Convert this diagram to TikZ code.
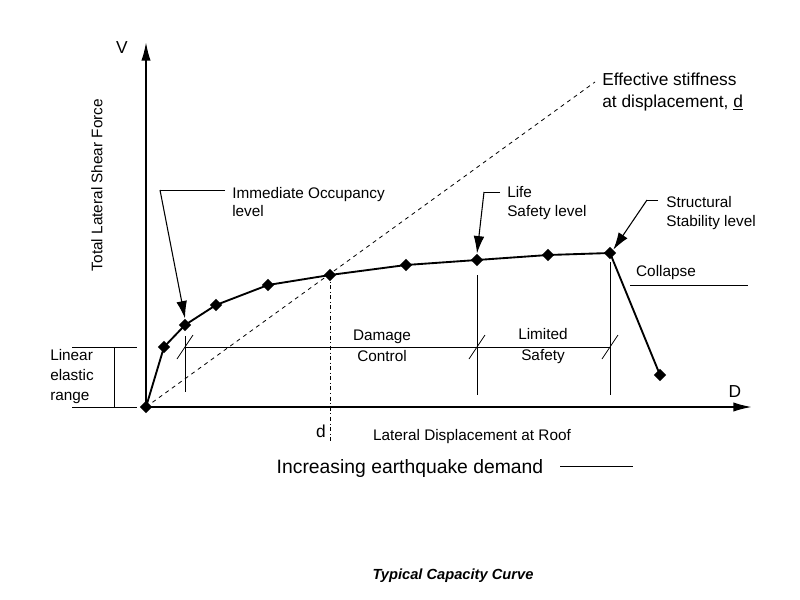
\documentclass[tikz,border=0pt]{standalone}
\usepackage{fontspec}
\setmainfont{Liberation Sans}
\usetikzlibrary{positioning,arrows.meta,shapes.geometric}
\tikzstyle{ptbox}=[diamond, fill=black, inner sep=0pt, minimum size=9.5pt]
\tikzstyle{lbl}=[font=\fontsize{11.5}{14}\selectfont, align=left, inner sep=0pt]
\tikzstyle{cline}=[-, line width=1.4pt]
\tikzstyle{pline}=[-, line width=0.6pt]
\tikzstyle{parrow}=[-{Latex[length=13pt,width=8pt]}, line width=0.8pt]
\begin{document}
\begin{tikzpicture}[x=0.75pt,y=-0.75pt]
\useasboundingbox (0,0) rectangle (800,600);

% axes
\coordinate (O) at (146,407);
\draw[-{Latex[length=14pt,width=7pt]}, line width=1.4pt] (O) -- (146,42);
\draw[-{Latex[length=14pt,width=7pt]}, line width=1.4pt] (O) -- (752,407);
\node (V) [lbl, font=\fontsize{13}{15}\selectfont] at (122,48) {V};
\node (D) [lbl, font=\fontsize{13}{15}\selectfont] at (735,392) {D};
\node (VLAB) [lbl, rotate=90] at (97,185) {Total Lateral Shear Force};
\node (DLAB) [lbl] at (472,437) {Lateral Displacement at Roof};

% effective stiffness
\coordinate (ES) at (595,82);
\draw[pline, dashed] (O) -- (ES);
\node (ESLAB) [lbl, font=\fontsize{13}{16}\selectfont, anchor=west] at (602,92) {Effective stiffness\\at displacement, \underline{d}};

% capacity curve
\node (P0) [ptbox] at (O) {};
\node (P1) [ptbox] at (164,347) {};
\node (P2) [ptbox] at (185,325) {};
\node (P3) [ptbox] at (216,305) {};
\node (P4) [ptbox] at (268,285) {};
\node (P5) [ptbox] at (330,275) {};
\node (P6) [ptbox] at (406,265) {};
\node (P7) [ptbox] at (477,260) {};
\node (P8) [ptbox] at (548,255) {};
\node (P9) [ptbox] at (610,253) {};
\node (P10) [ptbox] at (660,375) {};
\draw[cline] (P0.center) -- (P1.center) -- (P2.center) -- (P3.center) -- (P4.center)
  -- (P5.center) -- (P6.center) -- (P7.center) -- (P8.center) -- (P9.center) -- (P10.center);

% displacement d
\draw[pline, dash dot] (P5.center) -- (330,442);
\node (DSM) [font=\fontsize{13}{15}\selectfont\rmfamily] at (321,431) {d};

% performance ranges
\draw[pline] (185,347) -- (610,347);
\draw[pline] (185,336) -- (185,392);
\draw[pline] (477,275) -- (477,395);
\draw[pline] (610,262) -- (610,395);
\foreach \xx in {185,477,610}
  \draw[pline] (\xx-8,359) -- (\xx+8,335);
\node (DC) [lbl, align=center] at (382,346) {Damage\\[2pt]Control};
\node (LS) [lbl, align=center] at (543,346) {Limited\\[2pt]Safety};

% linear elastic range
\draw[pline] (72,347) -- (137,347);
\draw[pline] (72,407) -- (137,407);
\draw[{Latex[length=12pt,width=7pt]}-{Latex[length=12pt,width=7pt]}, pline] (114,347) -- (114,407);
\node (LER) [lbl, anchor=west, font=\fontsize{11.5}{15}\selectfont] at (50,377) {Linear\\elastic\\range};

% levels
\node (IO) [lbl, anchor=west] at (232,202) {Immediate Occupancy\\level};
\draw[pline] (225,190) -- (160,190);
\draw[parrow] (160,190) -- (P2.north);
\node (LSL) [lbl, anchor=west] at (507,203) {Life\\Safety level};
\draw[pline] (500,192) -- (484,192);
\draw[parrow] (484,192) -- (P7.north);
\node (SSL) [lbl, anchor=west] at (666,213) {Structural\\Stability level};
\draw[pline] (658,200) -- (647,200);
\draw[parrow] (647,200) -- (P9.north east);

% collapse
\node (COL) [lbl] at (666,273) {Collapse};
\draw[-{Latex[length=14pt,width=7pt]}, pline] (630,285) -- (748,285);

% demand
\node (DEM) [lbl, font=\fontsize{14.5}{17}\selectfont] at (410,468) {Increasing earthquake demand};
\draw[-{Latex[length=14pt,width=7pt]}, pline] (560,466) -- (633,466);

\node (TITLE) [font=\bfseries\itshape\fontsize{11}{13}\selectfont] at (453,576) {Typical Capacity Curve};
\end{tikzpicture}
\end{document}
